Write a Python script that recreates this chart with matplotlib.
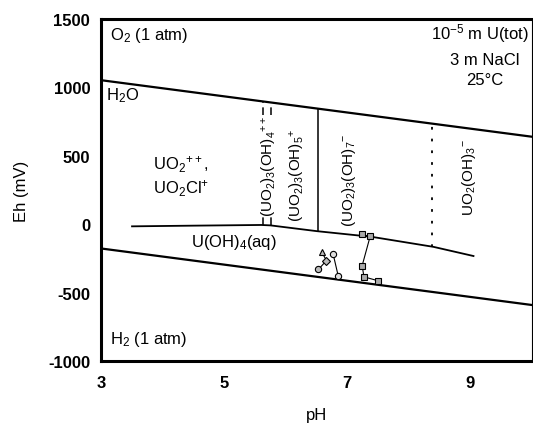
"""Eh-pH diagram for uranium in 3 m NaCl at 25 C, with sample points."""

import numpy as np
import matplotlib
matplotlib.use("Agg")
import matplotlib.pyplot as plt

plt.rcParams["font.family"] = ["Liberation Sans", "DejaVu Sans"]
plt.rcParams["mathtext.default"] = "regular"
plt.rcParams["axes.unicode_minus"] = False

# water stability limits
water_ph = [3, 10]
o2_eh = [1053, 640]
h2_eh = [-177, -590]

# U(OH)4(aq) upper boundary
uoh4_ph = [3.5, 4.5, 5.6, 5.75, 6.5, 7.4, 8.4, 9.05]
uoh4_eh = [-15, -10, -5, -8, -50, -92, -165, -232]

# vertical field boundaries (pH)
dashed_ph = [5.63, 5.76]
solid_ph = [6.53]
dotted_ph = [8.38]

# measured samples
tri_ph = [6.58, 6.66, 6.53]
tri_eh = [-200, -265, -330]
circ_ph = [6.77, 6.85]
circ_eh = [-220, -375]
sq_ph = [7.23, 7.37, 7.24, 7.27, 7.50]
sq_eh = [-74, -89, -303, -384, -413]

fig = plt.figure(figsize=(5.33, 4.27), dpi=100)
ax = fig.add_axes([0.19, 0.152, 0.808, 0.801])

ax.plot(water_ph, o2_eh, color="black", lw=1.6)
ax.plot(water_ph, h2_eh, color="black", lw=1.6)
ax.plot(uoh4_ph, uoh4_eh, color="black", lw=1.3)


def vline(ph, **kw):
    lo = np.interp(ph, uoh4_ph, uoh4_eh)
    hi = np.interp(ph, water_ph, o2_eh)
    ax.plot([ph, ph], [lo, hi], color="black", **kw)


for p in dashed_ph:
    vline(p, lw=1.1, ls=(0, (5, 3)))
for p in solid_ph:
    vline(p, lw=1.1)
for p in dotted_ph:
    vline(p, lw=1.3, ls=(0, (1.5, 5)))

# samples
ax.plot(tri_ph, tri_eh, color="black", lw=0.8)
for x, y, m in zip(tri_ph, tri_eh, ["^", "D", "o"]):
    ax.plot(x, y, marker=m, ms=4.5, mfc="#bbbbbb", mec="black", mew=0.8)
ax.plot(circ_ph, circ_eh, color="black", lw=0.8, marker="o", ms=4.5,
        mfc="#dddddd", mec="black", mew=0.8)
ax.plot(sq_ph, sq_eh, color="black", lw=0.8, marker="s", ms=4.5,
        mfc="#aaaaaa", mec="black", mew=0.8)

fs = 12
ax.text(3.15, 1390, "O$_2$ (1 atm)", fontsize=fs, va="center")
ax.text(3.08, 950, "H$_2$O", fontsize=fs, va="center")
ax.text(3.15, -834, "H$_2$ (1 atm)", fontsize=fs, va="center")
ax.text(4.3, 440, "UO$_2$$^{++}$,", fontsize=fs, ha="center", va="center")
ax.text(4.3, 270, "UO$_2$Cl$^{+}$", fontsize=fs, ha="center", va="center")
ax.text(9.95, 1400, "10$^{-5}$ m U(tot)", fontsize=fs, ha="right", va="center")
ax.text(9.24, 1205, "3 m NaCl", fontsize=fs, ha="center", va="center")
ax.text(9.24, 1060, "25°C", fontsize=fs, ha="center", va="center")
ax.text(5.15, -125, "U(OH)$_4$(aq)", fontsize=fs, ha="center", va="center")

rot = dict(fontsize=11, rotation=90, ha="center", va="center")
ax.text(5.74, 430, "(UO$_2$)$_3$(OH)$_4$$^{++}$",
        bbox=dict(facecolor="white", edgecolor="none", pad=0), **rot)
ax.text(6.19, 365, "(UO$_2$)$_3$(OH)$_5$$^{+}$", **rot)
ax.text(7.02, 330, "(UO$_2$)$_3$(OH)$_7$$^{-}$", **rot)
ax.text(8.97, 345, "UO$_2$(OH)$_3$$^{-}$", **rot)

ax.set_xlim(3, 10)
ax.set_ylim(-1000, 1500)
ax.set_xticks([3, 5, 7, 9])
ax.set_yticks([-1000, -500, 0, 500, 1000, 1500])
ax.tick_params(length=0, labelsize=12, pad=8)
for lab in ax.get_xticklabels() + ax.get_yticklabels():
    lab.set_fontweight("bold")
ax.tick_params(axis="x", pad=10)

for s in ("left", "bottom", "top"):
    ax.spines[s].set_linewidth(2.2)
ax.spines["right"].set_linewidth(0.8)

ax.set_xlabel("pH", fontsize=12, labelpad=12)
ax.set_ylabel("Eh (mV)", fontsize=12, labelpad=14)

fig.savefig("out.png", dpi=100)
